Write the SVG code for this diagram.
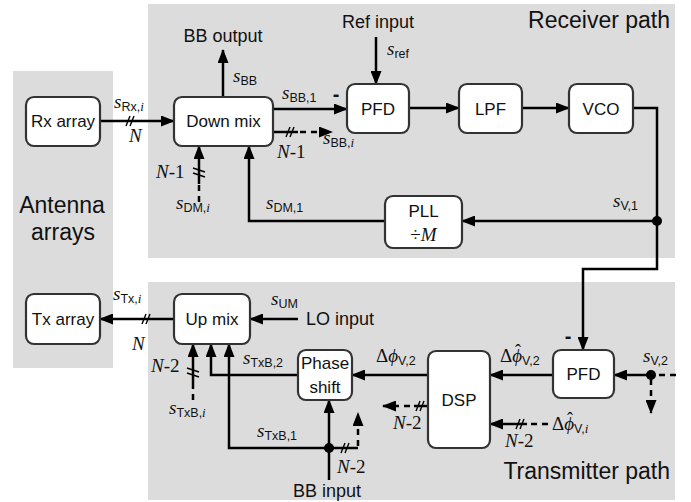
<svg xmlns="http://www.w3.org/2000/svg" width="691" height="502" viewBox="0 0 691 502">
<defs>
<marker id="ah" viewBox="0 0 14 11" refX="13" refY="5.5" markerWidth="14" markerHeight="11" orient="auto" markerUnits="userSpaceOnUse"><path d="M0,0 L14,5.5 L0,11 z" fill="#000"/></marker>
</defs>
<style>
.panel{fill:#dcdcdc}
.box{fill:#fff;stroke:#333;stroke-width:2.2}
.bt{font-family:"Liberation Sans","DejaVu Sans",sans-serif;font-size:17px;text-anchor:middle;fill:#111}
.big{font-family:"Liberation Sans","DejaVu Sans",sans-serif;font-size:23px;fill:#111}
.w{fill:none;stroke:#000;stroke-width:2.5}
.a{marker-end:url(#ah)}
.d{stroke-dasharray:6,5}
.sl{fill:none;stroke:#000;stroke-width:1.4}
.lab{font-family:"Liberation Sans","DejaVu Sans",sans-serif;font-size:12.5px;fill:#111}
.mi{font-family:"Liberation Serif","DejaVu Serif",serif;font-style:italic;font-size:19px}
.mu{font-family:"Liberation Serif","DejaVu Serif",serif;font-size:19px}
.ms{font-family:"Liberation Serif","DejaVu Serif",serif;font-style:italic;font-size:13px}
.txt{font-family:"Liberation Sans","DejaVu Sans",sans-serif;font-size:18px;fill:#111}
.minus{font-family:"Liberation Sans","DejaVu Sans",sans-serif;font-size:20px;font-weight:bold;fill:#111;text-anchor:middle}
.hat{font-family:"Liberation Serif","DejaVu Serif",serif;font-size:18px}
</style>
<g id="panels">
<rect class="panel" x="13" y="71" width="100" height="297"/>
<rect class="panel" x="148" y="4" width="527" height="254"/>
<rect class="panel" x="148" y="282" width="527" height="218"/>
<text class="big" x="62" y="213" text-anchor="middle" font-size="24.5">Antenna</text>
<text class="big" x="63" y="240" text-anchor="middle" font-size="24.5">arrays</text>
<text class="big" x="670" y="28" text-anchor="end">Receiver path</text>
<text class="big" x="670" y="479" text-anchor="end">Transmitter path</text>
</g>
<g id="connectors">
<path class="w a" d="M100,121 H174"/>
<path class="w a" d="M223,97 V50"/>
<path class="w a" d="M273,109 H347"/>
<path class="w" d="M273,132 H298"/>
<path class="w d a" d="M300,132 H332"/>
<path class="w a" d="M376,37 V84"/>
<path class="w a" d="M409,108 H459"/>
<path class="w a" d="M522,108 H569"/>
<path class="w a" d="M633,108 H657 V269 H583 V350"/>
<path class="w a" d="M657,221 H462"/>
<path class="w a" d="M385,221 H249 V146"/>
<path class="w a" d="M199,184 V146"/>
<path class="w d" d="M199,202 V184"/>
<path class="w a" d="M174,319 H100"/>
<path class="w a" d="M298,319 H250"/>
<path class="w a" d="M553,375 H490"/>
<path class="w a" d="M428,375 H352"/>
<path class="w a" d="M651,375 H614"/>
<path class="w d" d="M676,375 H657"/>
<path class="w d a" d="M651,379 V413"/>
<path class="w" d="M428,406 H414"/>
<path class="w d a" d="M410,406 H383"/>
<path class="w d" d="M548,424 H527"/>
<path class="w a" d="M527,424 H490"/>
<path class="w a" d="M298,375 H211 V344"/>
<path class="w a" d="M329,480 V400"/>
<path class="w a" d="M329,448 H229 V344"/>
<path class="w" d="M329,448 H358"/>
<path class="w d a" d="M358,446 V413"/>
<path class="w a" d="M193,384 V344"/>
<path class="w d" d="M193,400 V384"/>
<circle cx="657" cy="221" r="5"/>
<circle cx="651" cy="375" r="5"/>
<circle cx="329" cy="448" r="5"/>
<path class="sl" d="M126,126 L130,116 M130,126 L134,116"/>
<path class="sl" d="M286,137 L290,127 M290,137 L294,127"/>
<path class="sl" d="M193,168 L205,172 M193,173 L205,177"/>
<path class="sl" d="M142,324 L146,314 M146,324 L150,314"/>
<path class="sl" d="M416,411 L420,401 M420,411 L424,401"/>
<path class="sl" d="M516,429 L520,419 M520,429 L524,419"/>
<path class="sl" d="M341,453 L345,443 M345,453 L349,443"/>
<path class="sl" d="M187,368 L199,372 M187,373 L199,377"/>
</g>
<g id="rx-array"><rect class="box" x="26" y="97" width="74" height="49" rx="8"/><text class="bt" x="63" y="127">Rx array</text></g>
<g id="down-mix"><rect class="box" x="174" y="97" width="99" height="49" rx="8"/><text class="bt" x="223.5" y="127">Down mix</text></g>
<g id="pfd-rx"><rect class="box" x="347" y="84" width="62" height="49" rx="8"/><text class="bt" x="378" y="114.5">PFD</text></g>
<g id="lpf"><rect class="box" x="459" y="84" width="63" height="49" rx="8"/><text class="bt" x="490.5" y="114.5">LPF</text></g>
<g id="vco"><rect class="box" x="569" y="84" width="64" height="49" rx="8"/><text class="bt" x="601" y="114.5">VCO</text></g>
<g id="pll"><rect class="box" x="385" y="196" width="77" height="52" rx="8"/><text class="bt" x="423.5" y="217">PLL</text><text class="bt" x="423.5" y="241"><tspan class="mu">÷</tspan><tspan class="mi">M</tspan></text></g>
<g id="tx-array"><rect class="box" x="26" y="294" width="74" height="50" rx="8"/><text class="bt" x="63" y="325">Tx array</text></g>
<g id="up-mix"><rect class="box" x="174" y="294" width="76" height="50" rx="8"/><text class="bt" x="212" y="325">Up mix</text></g>
<g id="phase-shift"><rect class="box" x="298" y="350" width="54" height="50" rx="8"/><text class="bt" x="325" y="369">Phase</text><text class="bt" x="325" y="393">shift</text></g>
<g id="dsp"><rect class="box" x="428" y="351" width="62" height="97" rx="8"/><text class="bt" x="459" y="406">DSP</text></g>
<g id="pfd-tx"><rect class="box" x="553" y="350" width="61" height="48" rx="8"/><text class="bt" x="583.5" y="380">PFD</text></g>
<g id="labels">
<text class="txt" x="223" y="42" text-anchor="middle">BB output</text>
<text class="txt" x="378" y="28" text-anchor="middle">Ref input</text>
<text class="txt" x="306" y="325">LO input</text>
<text class="txt" x="327" y="497" text-anchor="middle">BB input</text>
<text class="lab" x="114" y="108"><tspan class="mi">s</tspan><tspan dy="3">Rx,</tspan><tspan class="ms">i</tspan></text>
<text class="lab" x="129" y="142"><tspan class="mi">N</tspan></text>
<text class="lab" x="233" y="82"><tspan class="mi">s</tspan><tspan dy="3">BB</tspan></text>
<text class="lab" x="282" y="99"><tspan class="mi">s</tspan><tspan dy="3">BB,1</tspan></text>
<text class="minus" x="336" y="101">-</text>
<text class="lab" x="323" y="144"><tspan class="mi">s</tspan><tspan dy="3">BB,</tspan><tspan class="ms">i</tspan></text>
<text class="lab" x="277" y="158"><tspan class="mi">N</tspan><tspan class="mu">-1</tspan></text>
<text class="lab" x="156" y="178"><tspan class="mi">N</tspan><tspan class="mu">-1</tspan></text>
<text class="lab" x="176" y="209"><tspan class="mi">s</tspan><tspan dy="3">DM,</tspan><tspan class="ms">i</tspan></text>
<text class="lab" x="266" y="209"><tspan class="mi">s</tspan><tspan dy="3">DM,1</tspan></text>
<text class="lab" x="387" y="55"><tspan class="mi">s</tspan><tspan dy="3">ref</tspan></text>
<text class="lab" x="613" y="207"><tspan class="mi">s</tspan><tspan dy="3">V,1</tspan></text>
<text class="lab" x="113" y="300"><tspan class="mi">s</tspan><tspan dy="3">Tx,</tspan><tspan class="ms">i</tspan></text>
<text class="lab" x="132" y="350"><tspan class="mi">N</tspan></text>
<text class="lab" x="271" y="305"><tspan class="mi">s</tspan><tspan dy="3">UM</tspan></text>
<text class="lab" x="151" y="372"><tspan class="mi">N</tspan><tspan class="mu">-2</tspan></text>
<text class="lab" x="169" y="414"><tspan class="mi">s</tspan><tspan dy="3">TxB,</tspan><tspan class="ms">i</tspan></text>
<text class="lab" x="243" y="364"><tspan class="mi">s</tspan><tspan dy="3">TxB,2</tspan></text>
<text class="lab" x="257" y="437"><tspan class="mi">s</tspan><tspan dy="3">TxB,1</tspan></text>
<text class="lab" x="337" y="473"><tspan class="mi">N</tspan><tspan class="mu">-2</tspan></text>
<text class="lab" x="376" y="362"><tspan class="mu">Δ</tspan><tspan class="mi">ϕ</tspan><tspan dy="3">V,2</tspan></text>
<text class="lab" x="500" y="362"><tspan class="mu">Δ</tspan><tspan class="mi">ϕ</tspan><tspan dy="3">V,2</tspan><tspan class="hat" x="515" y="357">ˆ</tspan></text>
<text class="lab" x="393" y="429"><tspan class="mi">N</tspan><tspan class="mu">-2</tspan></text>
<text class="lab" x="505" y="447"><tspan class="mi">N</tspan><tspan class="mu">-2</tspan></text>
<text class="lab" x="552" y="430"><tspan class="mu">Δ</tspan><tspan class="mi">ϕ</tspan><tspan dy="3">V,</tspan><tspan class="ms">i</tspan><tspan class="hat" x="567" y="425">ˆ</tspan></text>
<text class="minus" x="568" y="343">-</text>
<text class="lab" x="643" y="362"><tspan class="mi">s</tspan><tspan dy="3">V,2</tspan></text>
</g>
</svg>
